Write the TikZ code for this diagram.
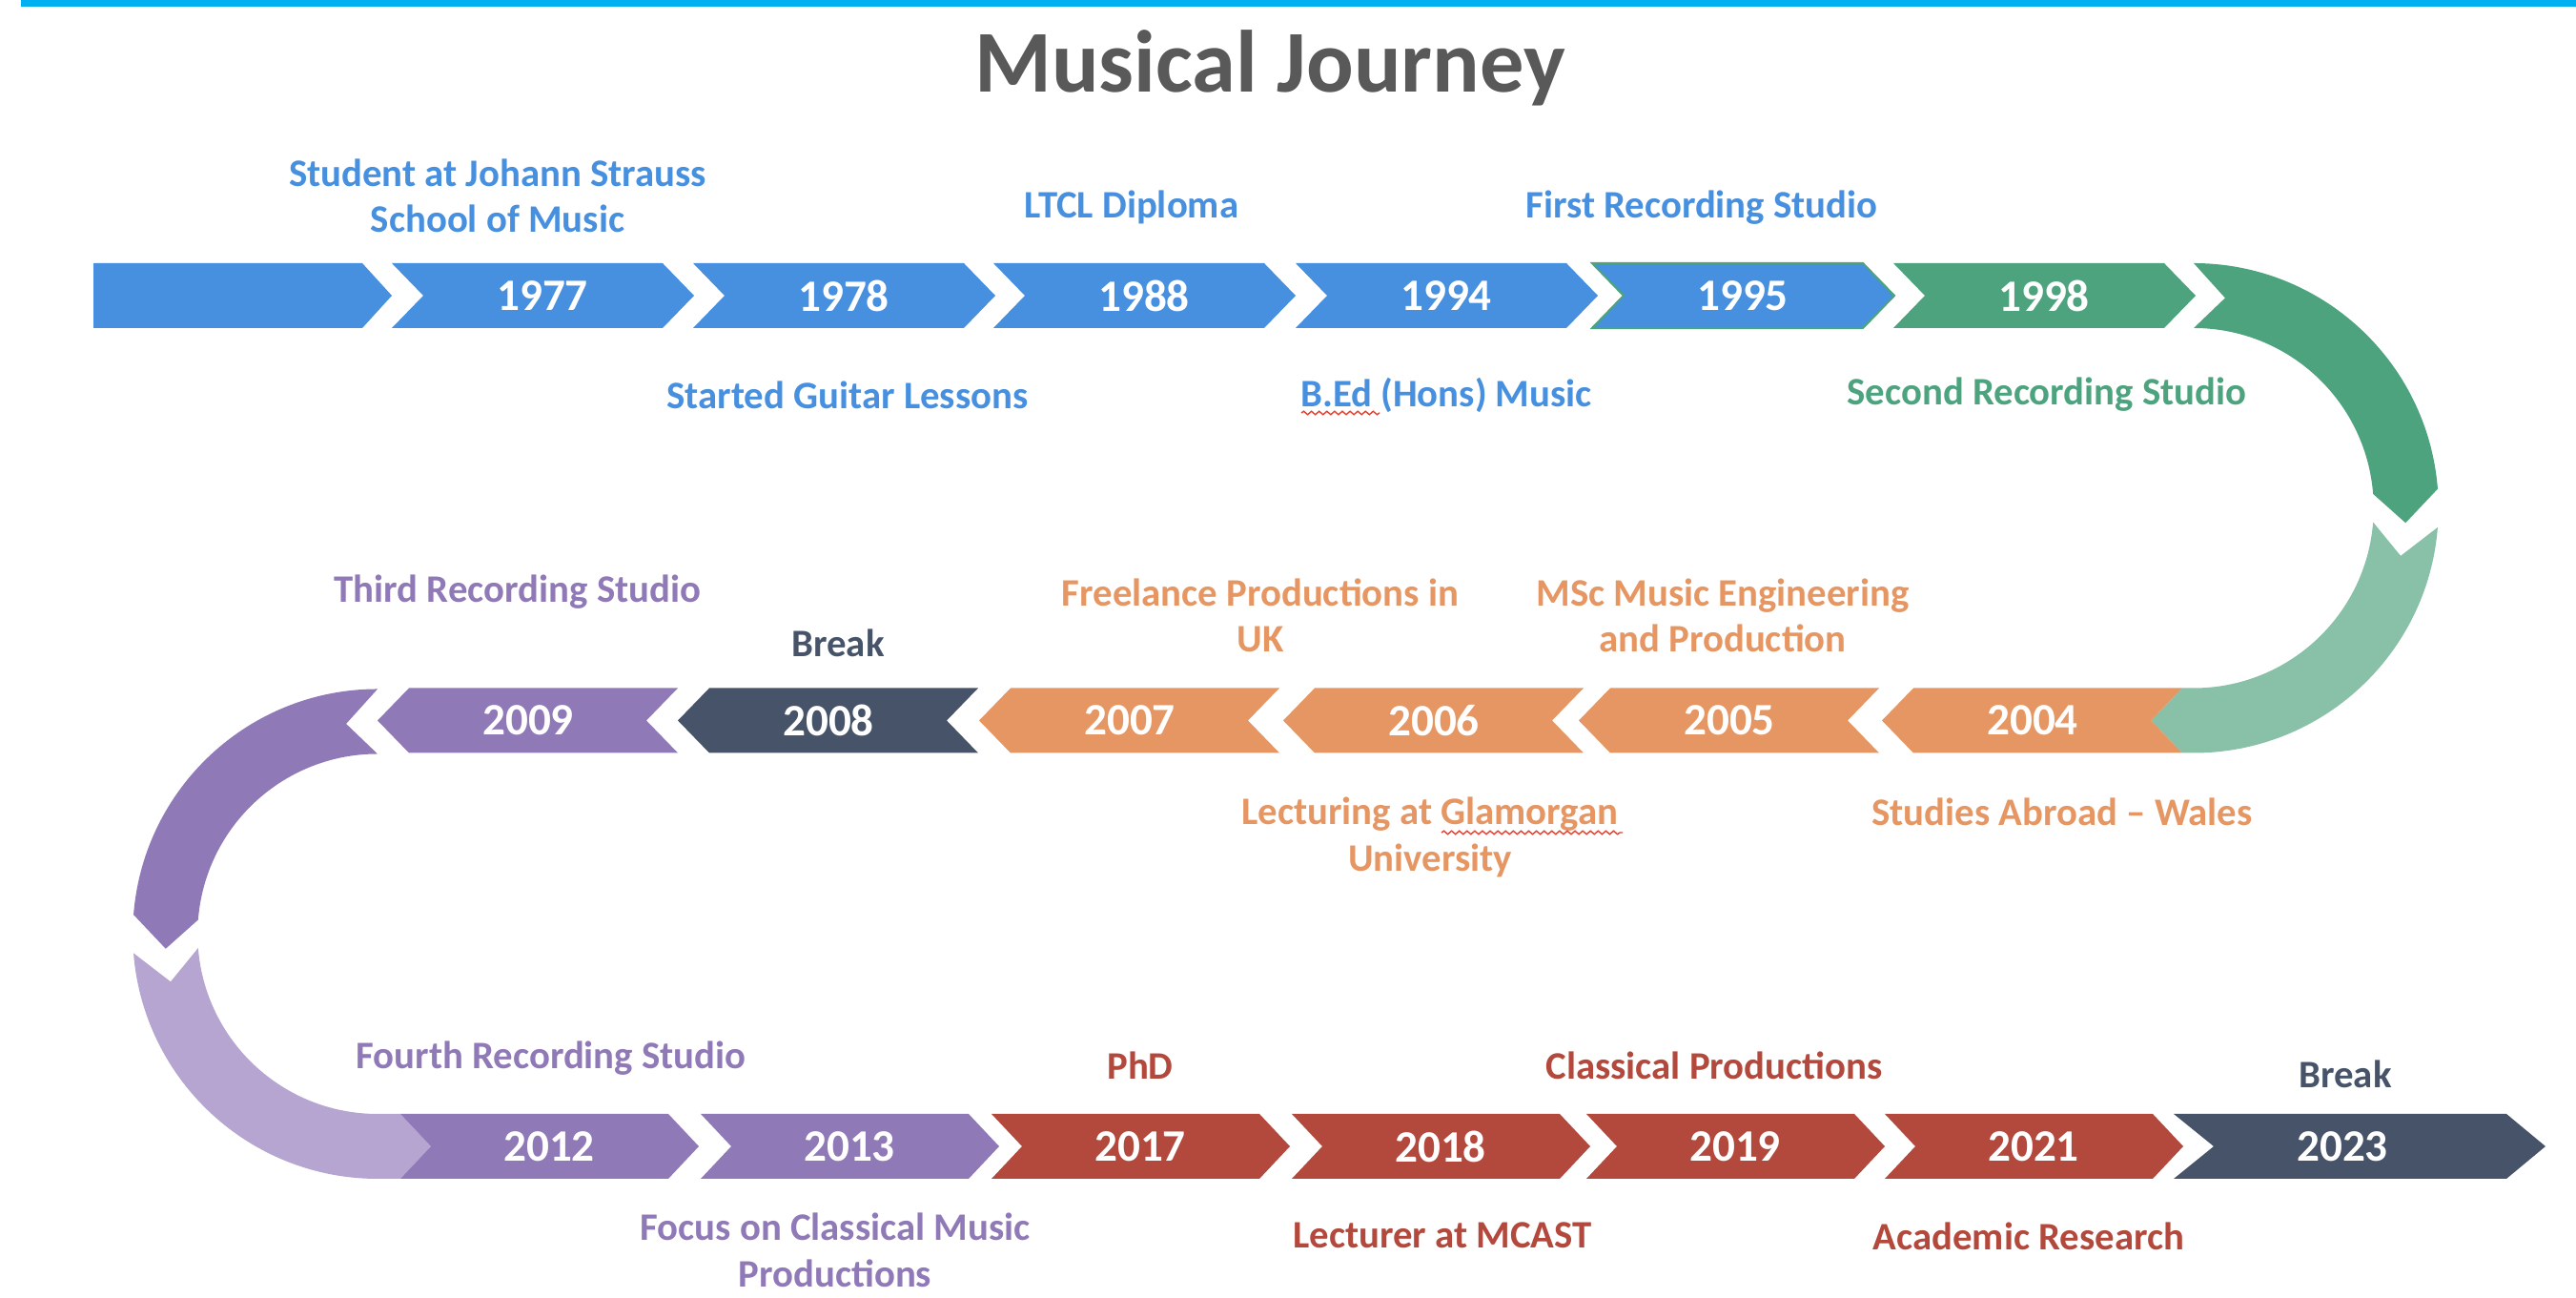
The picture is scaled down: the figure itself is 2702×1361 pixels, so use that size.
\documentclass[tikz,border=0pt]{standalone}
\usepackage{fontspec}
\setmainfont{Carlito}
\usetikzlibrary{decorations.pathmorphing}

\definecolor{jblue}{HTML}{478FDF}
\definecolor{jgreen}{HTML}{4EA37F}
\definecolor{jgreenlt}{HTML}{88C1A8}
\definecolor{jorange}{HTML}{E59662}
\definecolor{jslate}{HTML}{465368}
\definecolor{jpurple}{HTML}{9079B7}
\definecolor{jpurplelt}{HTML}{B5A5D0}
\definecolor{jred}{HTML}{B3493C}
\definecolor{jgrey}{HTML}{595959}
\definecolor{jcyan}{HTML}{00B0F0}
\definecolor{spellred}{HTML}{E8412F}

\begin{document}
\begin{tikzpicture}[x = 0.01cm, y = 0.01cm,
		year/.style = {text = white, font = \bfseries\fontsize{13.4}{16}\selectfont, inner sep = 0pt},
		lbl/.style = {align = center, inner sep = 0pt, font = \bfseries\fontsize{11.6}{13.8}\selectfont},
		squiggle/.style = {spellred, line width = 0.4pt, decorate, decoration = {snake, amplitude = 0.5pt, segment length = 2.3pt}}]
		\useasboundingbox (0,0) rectangle (2702,1361);
		\fill[jcyan] (22,1354) rectangle (2702,1361);
		\node (title) at (1332,1290) [text = jgrey, inner sep = 0pt, font = \bfseries\fontsize{26.3}{30}\selectfont] {Musical Journey};
		\coordinate (rc) at (2301,828.25);
		\coordinate (lc) at (396,381.75);

		% top row, pointing right
		\fill[jblue] (98,1085) -- (380,1085) -- (411,1051) -- (380,1017) -- (98,1017) -- cycle;
		\foreach \yr/\x/\col in {1977/411/jblue, 1978/727/jblue, 1988/1042/jblue, 1994/1359/jblue, 1995/1670/jblue, 1998/1986/jgreen} {
			\fill[\col] (\x,1085) -- ++(284,0) -- ++(33,-34) -- ++(-33,-34) -- ++(-284,0) -- ++(33,34) -- cycle;
		}
		\draw[jgreen, line width = 0.6pt] (1670,1085) -- ++(284,0) -- ++(33,-34) -- ++(-33,-34) -- ++(-284,0) -- ++(33,34) -- cycle;
		\foreach \yr/\x in {1977/411, 1978/727, 1988/1042, 1994/1359, 1995/1670, 1998/1986}
			\node (y\yr) at (\x+158,1051) [year] {\yr};

		% right turn
		\fill[jgreen] ([shift={(rc)}]90:256.75) arc[start angle = 90, end angle = 4.5, radius = 256.75]
			-- ([shift={(rc)}]-4:222.75) -- ([shift={(rc)}]4.5:188.75)
			arc[start angle = 4.5, end angle = 90, radius = 188.75] -- ([shift={(rc)}]81.5:222.75) -- cycle;
		\fill[jgreenlt] ([shift={(rc)}]-4.5:256.75) arc[start angle = -4.5, end angle = -90, radius = 256.75]
			-- (2289,571.5) -- (2256,605.5) -- (2289,639.5) -- ([shift={(rc)}]-90:188.75)
			arc[start angle = -90, end angle = -4.5, radius = 188.75] -- ([shift={(rc)}]-13:222.75) -- cycle;

		% middle row, pointing left
		\foreach \yr/\x/\col in {2004/2289/jorange, 2005/1971/jorange, 2006/1661/jorange, 2007/1342/jorange, 2008/1026/jslate, 2009/711/jpurple} {
			\fill[\col] (\x,639.5) -- ++(-282,0) -- ++(-33,-34) -- ++(33,-34) -- ++(282,0) -- ++(-33,34) -- cycle;
			\node (y\yr) at (\x-157,605.5) [year] {\yr};
		}

		% left turn
		\fill[jpurple] ([shift={(lc)}]90:256.75) arc[start angle = 90, end angle = 175.5, radius = 256.75]
			-- ([shift={(lc)}]184:222.75) -- ([shift={(lc)}]175.5:188.75)
			arc[start angle = 175.5, end angle = 90, radius = 188.75] -- ([shift={(lc)}]98.5:222.75) -- cycle;
		\fill[jpurplelt] ([shift={(lc)}]184.5:256.75) arc[start angle = 184.5, end angle = 270, radius = 256.75]
			-- (420,125) -- (452,159) -- (420,193) -- ([shift={(lc)}]270:188.75)
			arc[start angle = 270, end angle = 184.5, radius = 188.75] -- ([shift={(lc)}]193:222.75) -- cycle;

		% bottom row, pointing right
		\foreach \yr/\x/\col in {2012/420/jpurple, 2013/735/jpurple, 2017/1040/jred, 2018/1355/jred, 2019/1664/jred, 2021/1977/jred} {
			\fill[\col] (\x,193) -- ++(281,0) -- ++(32,-34) -- ++(-32,-34) -- ++(-281,0) -- ++(32,34) -- cycle;
			\node (y\yr) at (\x+156,159) [year] {\yr};
		}
		\fill[jslate] (2280,193) -- (2629,193) -- (2670,159) -- (2629,125) -- (2280,125) -- (2322,159) -- cycle;
		\node (y2023) at (2457,159) [year] {2023};

		% events
		\node (student) at (522,1155.5) [lbl, text = jblue] {Student at Johann Strauss\\School of Music};
		\node (ltcl) at (1187,1143.5) [lbl, text = jblue] {LTCL Diploma};
		\node (firststudio) at (1785,1143.5) [lbl, text = jblue] {First Recording Studio};
		\node (guitar) at (889,946.5) [lbl, text = jblue] {Started Guitar Lessons};
		\node (bed) at (1517,946.5) [lbl, text = jblue] {B.Ed (Hons) Music};
		\node (secondstudio) at (2147,947.5) [lbl, text = jgreen] {Second Recording Studio};
		\node (thirdstudio) at (543,740) [lbl, text = jpurple] {Third Recording Studio};
		\node (breakmid) at (879,687) [lbl, text = jslate] {Break};
		\node (freelance) at (1322,715.5) [lbl, text = jorange] {Freelance Productions in\\UK};
		\node (msc) at (1807,715.5) [lbl, text = jorange] {MSc Music Engineering\\and Production};
		\node (lecturing) at (1500,483) [lbl, text = jorange] {Lecturing at Glamorgan\\University};
		\node (abroad) at (2163,510) [lbl, text = jorange] {Studies Abroad \textendash{} Wales};
		\node (fourthstudio) at (578,251.5) [lbl, text = jpurple] {Fourth Recording Studio};
		\node (phd) at (1196,243.5) [lbl, text = jred] {PhD};
		\node (classical) at (1798,243.5) [lbl, text = jred] {Classical Productions};
		\node (breakend) at (2460,235) [lbl, text = jslate] {Break};
		\node (focus) at (876,50) [lbl, text = jpurple] {Focus on Classical Music\\Productions};
		\node (mcast) at (1513,65.5) [lbl, text = jred] {Lecturer at MCAST};
		\node (research) at (2128,65) [lbl, text = jred] {Academic Research};

		% spell-check marks
		\draw[squiggle] (1365,928) -- (1447,928);
		\draw[squiggle] (1512,488) -- (1702,488);
	\end{tikzpicture}
\end{document}
